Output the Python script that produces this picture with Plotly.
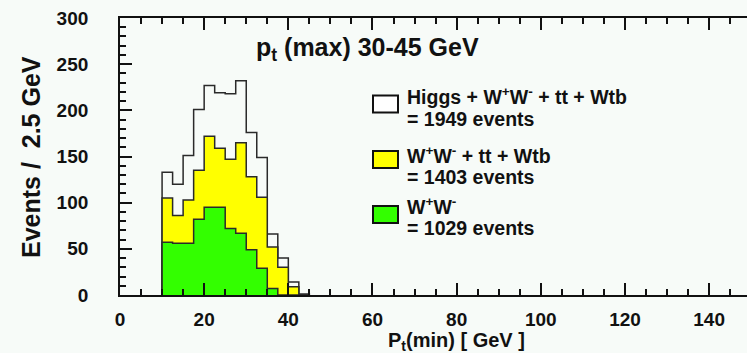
import plotly.graph_objects as go

# ---------------- data ----------------
bin_width = 2.5
bin_lo = [10, 12.5, 15, 17.5, 20, 22.5, 25, 27.5, 30, 32.5, 35, 37.5, 40, 42.5]
total_vals = [133, 120, 151, 201, 227, 219, 218, 232, 176, 149, 66, 40, 14, 1]      # Higgs + WW + tt + Wtb
bkg_vals   = [105, 86, 103, 135, 172, 159, 147, 165, 128, 106, 52, 30, 9, 0]        # WW + tt + Wtb
ww_vals    = [57, 56, 56, 82, 95, 95, 72, 67, 49, 29, 7, 0, 0, 0]                   # WW

series = [
    ("Higgs + W<sup>+</sup>W<sup>-</sup> + tt + Wtb", "= 1949 events", total_vals, "#f7fbf8"),
    ("W<sup>+</sup>W<sup>-</sup> + tt + Wtb", "= 1403 events", bkg_vals, "#ffff00"),
    ("W<sup>+</sup>W<sup>-</sup>", "= 1029 events", ww_vals, "#33ff00"),
]

x_ticks = [0, 20, 40, 60, 80, 100, 120, 140]
y_ticks = [0, 50, 100, 150, 200, 250, 300]

BG = "#f7fbf8"
FONT = "Liberation Sans, Arial, Helvetica, sans-serif"
INK = "#111111"

W, H = 747, 353
L, R, T, B = 120, 0, 18, 58
PW, PH = W - L - R, H - T - B


def px(xp):
    return (xp - L) / PW


def py(yp):
    return (H - B - yp) / PH


def step_xy(lo, vals):
    xs = [lo[0]]
    ys = [0]
    for x0, v in zip(lo, vals):
        xs.append(x0)
        ys.append(v)
    xs.append(lo[-1] + bin_width)
    ys.append(0)
    return xs, ys


fig = go.Figure()
for name, count, vals, col in series:
    xs, ys = step_xy(bin_lo, vals)
    fig.add_trace(go.Scatter(
        x=xs, y=ys, mode="lines", line_shape="hv",
        line=dict(color="#2a2a2a", width=1.5),
        fill="tozeroy", fillcolor=col, showlegend=False, hoverinfo="skip",
    ))

fig.update_layout(
    width=W, height=H,
    margin=dict(l=L, r=R, t=T, b=B, pad=0),
    paper_bgcolor=BG, plot_bgcolor=BG,
    font=dict(family=FONT, color=INK, size=19, weight="bold"),
    showlegend=False,
)

fig.update_xaxes(
    range=[0, 149], tickvals=x_ticks, ticktext=[str(v) for v in x_ticks],
    showgrid=False, zeroline=False,
    showline=True, linecolor="#111", linewidth=1.8, mirror="ticks",
    ticks="inside", ticklen=12, tickwidth=1.5, tickcolor="#111",
    minor=dict(dtick=5, tick0=0, ticks="inside", ticklen=6, tickwidth=1.5, tickcolor="#111", showgrid=False),
    tickfont=dict(family=FONT, size=19, color=INK, weight="bold"),
    ticklabelstandoff=6,
)
fig.update_yaxes(
    range=[0, 300], tickvals=y_ticks, ticktext=[str(v) for v in y_ticks],
    showgrid=False, zeroline=False,
    showline=True, linecolor="#111", linewidth=1.8, mirror=False,
    ticks="inside", ticklen=12, tickwidth=1.5, tickcolor="#111",
    minor=dict(dtick=10, tick0=0, ticks="inside", ticklen=6, tickwidth=1.5, tickcolor="#111", showgrid=False),
    tickfont=dict(family=FONT, size=19, color=INK, weight="bold"),
    ticklabelstandoff=26,
)

ann = []
# axis titles
ann.append(dict(text="Events /  2.5 GeV", x=px(31), y=py(157), xref="paper", yref="paper",
                textangle=-90, showarrow=False, xanchor="center", yanchor="middle",
                font=dict(family=FONT, size=25, color=INK, weight="bold")))
ann.append(dict(text="P<sub>t</sub>(min) [ GeV ]", x=px(456), y=py(341), xref="paper", yref="paper",
                showarrow=False, xanchor="center", yanchor="middle",
                font=dict(family=FONT, size=20, color=INK, weight="bold")))
# plot title
ann.append(dict(text="p<sub>t</sub> (max) 30-45 GeV", x=px(367), y=py(49), xref="paper", yref="paper",
                showarrow=False, xanchor="center", yanchor="middle",
                font=dict(family=FONT, size=25, color=INK, weight="bold")))

# legend
rows = [(95.5, 118.5, 104), (155, 177, 159.5), (205.5, 228, 214.5)]
shapes = []
for (name, count, vals, col), (ya, yb, yc) in zip(series, rows):
    ann.append(dict(text=name, x=px(405), y=py(ya), xref="paper", yref="paper",
                    showarrow=False, xanchor="left", yanchor="middle",
                    font=dict(family=FONT, size=19.5, color=INK, weight="bold")))
    ann.append(dict(text=count, x=px(405), y=py(yb), xref="paper", yref="paper",
                    showarrow=False, xanchor="left", yanchor="middle",
                    font=dict(family=FONT, size=19.5, color=INK, weight="bold")))
    fill = "#ffffff" if col == BG else col
    shapes.append(dict(type="rect", xref="paper", yref="paper",
                       x0=px(373), x1=px(398), y0=py(yc - 8.5), y1=py(yc + 8.5),
                       line=dict(color="#111", width=2), fillcolor=fill, layer="above"))

fig.update_layout(annotations=ann, shapes=shapes)
fig.write_html("out.html")
